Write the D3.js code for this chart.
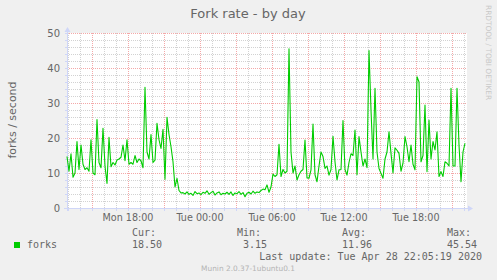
<!DOCTYPE html>
<html>
<head>
<meta charset="utf-8">
<script src="https://cdn.jsdelivr.net/npm/d3@7"></script>
<style>
    html, body { margin: 0; padding: 0; background: #f0f0f0; }
    svg { display: block; }
    text { font-family: "DejaVu Sans", sans-serif; fill: #666666; }
    .mono { font-family: "DejaVu Sans Mono", monospace; white-space: pre; }
</style>
</head>
<body>
<div id="chart"></div>
<script>
(function () {

    'use strict';

    var startTime = Date.UTC(2020, 3, 27, 12, 55);
    var stepMinutes = 10;
    var forkValues = [
        14.7, 10.5, 15.5, 8.8, 10, 19, 11, 18, 12.5, 11,
        11.5, 10.5, 19.5, 10, 9.5, 25.3, 13, 11.5, 22.8, 12,
        7, 20.2, 11.8, 13, 12.3, 13.7, 14, 14.5, 18, 13.5,
        19.5, 12.5, 13, 12.5, 15, 13, 14, 13.5, 11.5, 34.5,
        16, 14, 21, 13, 13.7, 24.2, 19.5, 17, 22.5, 8.2,
        25.9, 21, 17.5, 13.2, 6, 8.5, 5, 4.3, 4.4, 4.0,
        4.6, 3.9, 4.2, 3.6, 4.7, 4.1, 4.3, 3.8, 4.5, 4.2,
        4.9, 3.9, 4.4, 4.8, 3.7, 4.3, 4.6, 3.8, 4.2, 4.0,
        4.5, 3.9, 4.6, 3.6, 4.3, 4.1, 4.7, 3.9, 4.4, 3.2,
        4.2, 4.5, 4.0, 4.8, 4.2, 4.6, 4.4, 5.0, 5.4, 5.2,
        6.6, 4.5, 6, 9.7, 9, 9.5, 18.2, 9, 11, 10,
        10.5, 45.5, 16, 10, 12, 8, 9.5, 10.5, 11, 19.4,
        8.6, 8.5, 10.9, 24, 9.5, 7.5, 12, 16, 14.7, 11.3,
        12, 9.4, 11, 20.5, 13.2, 8, 10.9, 11, 25, 11,
        9.4, 13, 15.5, 15, 22.3, 9.5, 20.4, 16, 12, 14,
        11.5, 45, 28, 14, 34.2, 16, 11.3, 9.9, 8.5, 14,
        16, 21.8, 15.6, 10, 17.2, 16.5, 15.6, 10.5, 12.8, 20.4,
        17.5, 13.2, 18, 12.5, 10.9, 37.5, 36, 13.2, 15, 29.4,
        10.4, 25.1, 14, 19, 16.6, 21.8, 9, 10.4, 9, 13.2,
        12.8, 12, 34.2, 12, 12, 34.2, 18, 7.5, 16, 18.5
    ];
    var yTicks = [0, 10, 20, 30, 40, 50];
    var legendNames = ['Cur:', 'Min:', 'Avg:', 'Max:'];
    var legendValues = ['18.50', ' 3.15', '11.96', '45.54'];
    var lastUpdate = 'Last update: Tue Apr 28 22:05:19 2020';

    var width = 497;
    var height = 280;

    var plotLeft = 67;
    var plotRight = 467;
    var plotTop = 33;
    var plotBottom = 208;

    var axisColor = '#cfd6f8';
    var minorGridColor = '#d2d2d2';
    var majorGridColor = '#f4a8a8';
    var lineColor = '#00cc00';

    var svg = d3.select('#chart')
        .append('svg')
        .attr('width', width)
        .attr('height', height);

    svg.append('rect')
        .attr('width', width)
        .attr('height', height)
        .attr('fill', '#f0f0f0');

    // 400 px of plot, 5 minutes per pixel
    var x = d3.scaleUtc()
        .domain([startTime, startTime + 400 * 5 * 60000])
        .range([plotLeft, plotRight]);

    var y = d3.scaleLinear()
        .domain([0, 50])
        .range([plotBottom, plotTop]);

    svg.append('rect')
        .attr('x', plotLeft)
        .attr('y', plotTop)
        .attr('width', plotRight - plotLeft)
        .attr('height', plotBottom - plotTop)
        .attr('fill', '#ffffff');

    var grid = svg.append('g')
        .attr('shape-rendering', 'crispEdges')
        .attr('stroke-width', 1)
        .attr('stroke-dasharray', '1,1');

    // horizontal grid: minor every 2, major every 10
    var minorY = d3.range(2, 51, 2).filter(function (v) { return v % 10 !== 0; });

    grid.selectAll('.hminor')
        .data(minorY)
        .enter()
        .append('line')
        .attr('x1', plotLeft)
        .attr('x2', plotRight)
        .attr('y1', function (d) { return Math.round(y(d)) + 0.5; })
        .attr('y2', function (d) { return Math.round(y(d)) + 0.5; })
        .attr('stroke', minorGridColor);

    // vertical grid: minor every hour, major every 3 hours
    var hourTicks = x.ticks(d3.utcHour.every(1));
    var majorTicks = x.ticks(d3.utcHour.every(3));
    var majorKeys = majorTicks.map(function (d) { return +d; });

    grid.selectAll('.vminor')
        .data(hourTicks.filter(function (d) { return majorKeys.indexOf(+d) === -1; }))
        .enter()
        .append('line')
        .attr('x1', function (d) { return Math.round(x(d)) + 0.5; })
        .attr('x2', function (d) { return Math.round(x(d)) + 0.5; })
        .attr('y1', plotTop)
        .attr('y2', plotBottom)
        .attr('stroke', minorGridColor);

    grid.selectAll('.hmajor')
        .data(yTicks.filter(function (v) { return v > 0; }))
        .enter()
        .append('line')
        .attr('x1', plotLeft)
        .attr('x2', plotRight)
        .attr('y1', function (d) { return Math.round(y(d)) + 0.5; })
        .attr('y2', function (d) { return Math.round(y(d)) + 0.5; })
        .attr('stroke', majorGridColor);

    grid.selectAll('.vmajor')
        .data(majorTicks)
        .enter()
        .append('line')
        .attr('x1', function (d) { return Math.round(x(d)) + 0.5; })
        .attr('x2', function (d) { return Math.round(x(d)) + 0.5; })
        .attr('y1', plotTop)
        .attr('y2', plotBottom)
        .attr('stroke', majorGridColor);

    // axes
    var axes = svg.append('g')
        .attr('shape-rendering', 'crispEdges')
        .attr('stroke', axisColor)
        .attr('fill', 'none');

    axes.append('line')
        .attr('x1', plotLeft - 3).attr('x2', plotRight + 2)
        .attr('y1', plotBottom + 0.5).attr('y2', plotBottom + 0.5);

    axes.append('line')
        .attr('x1', plotLeft + 0.5).attr('x2', plotLeft + 0.5)
        .attr('y1', plotBottom + 3).attr('y2', plotTop - 3);

    axes.selectAll('.xt')
        .data(hourTicks)
        .enter()
        .append('line')
        .attr('x1', function (d) { return Math.round(x(d)) + 0.5; })
        .attr('x2', function (d) { return Math.round(x(d)) + 0.5; })
        .attr('y1', plotBottom)
        .attr('y2', plotBottom + 3);

    axes.selectAll('.yt')
        .data(d3.range(0, 51, 2))
        .enter()
        .append('line')
        .attr('x1', plotLeft - 2)
        .attr('x2', plotLeft)
        .attr('y1', function (d) { return Math.round(y(d)) + 0.5; })
        .attr('y2', function (d) { return Math.round(y(d)) + 0.5; });

    // arrows
    svg.append('path')
        .attr('d', 'M' + (plotRight + 1) + ',' + (plotBottom - 2.5) + 'L' + (plotRight + 6) + ',' + (plotBottom + 0.5) + 'L' + (plotRight + 1) + ',' + (plotBottom + 3.5) + 'Z')
        .attr('fill', axisColor);
    svg.append('path')
        .attr('d', 'M' + (plotLeft - 2.5) + ',' + (plotTop - 1) + 'L' + (plotLeft + 0.5) + ',' + (plotTop - 6) + 'L' + (plotLeft + 3.5) + ',' + (plotTop - 1) + 'Z')
        .attr('fill', axisColor);

    // the series
    var line = d3.line()
        .x(function (d, i) { return x(startTime + i * stepMinutes * 60000); })
        .y(function (d) { return y(d); });

    svg.append('path')
        .datum(forkValues)
        .attr('d', line)
        .attr('fill', 'none')
        .attr('stroke', lineColor)
        .attr('stroke-width', 1.1)
        .attr('stroke-linejoin', 'round');

    // tick labels
    svg.selectAll('.ylab')
        .data(yTicks)
        .enter()
        .append('text')
        .attr('x', 60)
        .attr('y', function (d) { return y(d) + 3.5; })
        .attr('text-anchor', 'end')
        .attr('font-size', '10px')
        .text(function (d) { return d; });

    var timeFormat = d3.utcFormat('%a %H:%M');

    svg.selectAll('.xlab')
        .data(x.ticks(d3.utcHour.every(6)))
        .enter()
        .append('text')
        .attr('x', function (d) { return x(d); })
        .attr('y', 221)
        .attr('text-anchor', 'middle')
        .attr('font-size', '9.6px')
        .text(function (d) { return timeFormat(d); });

    // titles
    svg.append('text')
        .attr('x', 248)
        .attr('y', 18)
        .attr('text-anchor', 'middle')
        .attr('font-size', '13px')
        .text('Fork rate - by day');

    svg.append('text')
        .attr('transform', 'translate(16,120) rotate(-90)')
        .attr('text-anchor', 'middle')
        .attr('font-size', '11px')
        .text('forks / second');

    svg.append('text')
        .attr('transform', 'translate(486,5) rotate(90)')
        .attr('font-size', '7.4px')
        .style('fill', '#c8c8c8')
        .text('RRDTOOL / TOBI OETIKER');

    // legend
    svg.append('rect')
        .attr('x', 14)
        .attr('y', 242)
        .attr('width', 6)
        .attr('height', 6)
        .attr('fill', lineColor);

    svg.append('text')
        .attr('class', 'mono')
        .attr('x', 27)
        .attr('y', 248)
        .attr('font-size', '10px')
        .text('forks');

    var legendX = [132, 237, 342, 447];

    legendNames.forEach(function (name, i) {
        svg.append('text')
            .attr('class', 'mono')
            .attr('x', legendX[i])
            .attr('y', 236)
            .attr('font-size', '10px')
            .text(name);
        svg.append('text')
            .attr('class', 'mono')
            .attr('x', legendX[i])
            .attr('y', 248)
            .attr('font-size', '10px')
            .text(legendValues[i]);
    });

    svg.append('text')
        .attr('class', 'mono')
        .attr('x', 482)
        .attr('y', 260)
        .attr('text-anchor', 'end')
        .attr('font-size', '10px')
        .text(lastUpdate);

    svg.append('text')
        .attr('x', 248)
        .attr('y', 271)
        .attr('text-anchor', 'middle')
        .attr('font-size', '7.4px')
        .style('fill', '#b4b4b4')
        .text('Munin 2.0.37-1ubuntu0.1');

}());
</script>
</body>
</html>
